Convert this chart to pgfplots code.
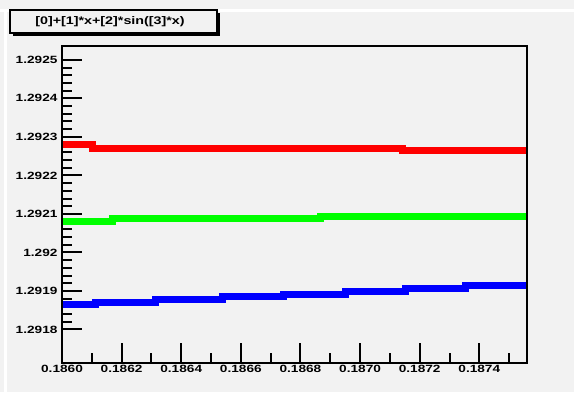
\documentclass[border=0pt]{standalone}
\usepackage{pgfplots}
\pgfplotsset{compat=1.18}
\usepackage{fontspec}
\setmainfont{Liberation Sans}
\newfontfamily\rootfont[FakeStretch=1.3]{Liberation Sans Bold}
\definecolor{bg}{HTML}{F2F2F2}
\definecolor{rootred}{HTML}{FF0000}
\definecolor{rootgreen}{HTML}{00FF00}
\definecolor{rootblue}{HTML}{0000FF}
\begin{document}
\begin{tikzpicture}[x=1pt,y=1pt]
\fill[bg] (0,0) rectangle (574,392);
\fill[white] (0,380) rectangle (574,383);
\fill[white] (4,0) rectangle (7,383);
\begin{axis}[
  at={(62pt,29pt)}, anchor=south west,
  scale only axis, width=465pt, height=317pt,
  xmin=0.1860, xmax=0.18756,
  ymin=1.291713, ymax=1.292536,
  axis line style={line width=1.4pt},
  xtick={0.1860,0.1862,0.1864,0.1866,0.1868,0.1870,0.1872,0.1874},
  xticklabels={0.1860,0.1862,0.1864,0.1866,0.1868,0.1870,0.1872,0.1874},
  minor xtick={0.1861,0.1863,0.1865,0.1867,0.1869,0.1871,0.1873,0.1875},
  ytick={1.2918,1.2919,1.2920,1.2921,1.2922,1.2923,1.2924,1.2925},
  yticklabels={1.2918,1.2919,1.292,1.2921,1.2922,1.2923,1.2924,1.2925},
  minor y tick num=4,
  tick align=inside,
  major tick length=20pt,
  minor tick length=10pt,
  major tick style={line width=2pt, black},
  minor tick style={line width=2pt, black},
  x tick label style={font=\fontsize{10.5}{12}\rootfont, yshift=1pt},
  y tick label style={font=\fontsize{10.5}{12}\rootfont, xshift=-1pt},
  tick pos=left,
  scaled ticks=false,
]
\addplot[const plot, rootred, line width=7pt] coordinates {
 (0.18600,1.292279) (0.186104,1.292271) (0.187143,1.292264) (0.18756,1.292264)};
\addplot[const plot, rootgreen, line width=7pt] coordinates {
 (0.18600,1.292081) (0.186171,1.292088) (0.186867,1.292094) (0.18756,1.292094)};
\addplot[const plot, rootblue, line width=7pt] coordinates {
 (0.18600,1.291865) (0.186111,1.291871) (0.186313,1.291878) (0.186538,1.291886)
 (0.186743,1.291892) (0.186951,1.291899) (0.187153,1.291906) (0.187355,1.291914)
 (0.18756,1.291914)};
\end{axis}
\draw[line width=1.4pt] (62,29) rectangle (527,346);
\fill[black] (13,356) rectangle (220,379);
\fill[bg] (10,359) rectangle (217,382);
\draw[line width=1.2pt] (10,359) rectangle (217,382);
\node[font=\fontsize{11}{13}\rootfont] at (110,370.5) {[0]+[1]*x+[2]*sin([3]*x)};
\end{tikzpicture}
\end{document}
